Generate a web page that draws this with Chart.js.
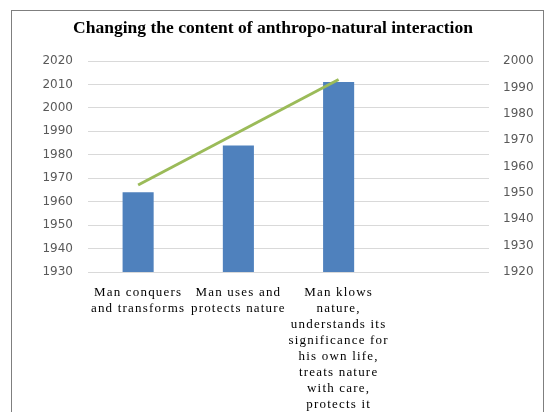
<!DOCTYPE html>
<html>
<head>
<meta charset="utf-8">
<script src="https://cdn.jsdelivr.net/npm/chart.js@4"></script>
<style>
  html, body { margin: 0; padding: 0; background: #fff; }
  #wrap { position: relative; width: 546px; height: 412px; overflow: hidden; }
  #frame { position: absolute; left: 11px; top: 10px; width: 533px; height: 420px; border: 1px solid #7f7f7f; box-sizing: border-box; pointer-events: none; }
  canvas { position: absolute; left: 0; top: 0; }
</style>
</head>
<body>
<div id="wrap">
  <canvas id="c" width="546" height="412"></canvas>
  <div id="frame"></div>
</div>
<script>
const titleText = "Changing the content of anthropo-natural interaction";
const categories = [
  ["Man conquers", "and transforms"],
  ["Man uses and", "protects nature"],
  ["Man klows", "nature,", "understands its", "significance for", "his own life,", "treats nature", "with care,", "protects it"],
  ""
];
const barValues = [1964, 1984, 2011, null];
const lineValues = [1953, 1973, 1993, null];
const leftMin = 1930, leftMax = 2020;
const rightMin = 1920, rightMax = 2000;
const tickStep = 10;

const spacingPlugin = {
  id: 'xspacing',
  afterLayout(chart) {
    const s = chart.scales.x;
    if (!s._wrapped) {
      const orig = s.drawLabels.bind(s);
      s.drawLabels = function (a) {
        const c = this.ctx;
        c.save();
        c.letterSpacing = '1.2px';
        orig(a);
        c.restore();
      };
      s._wrapped = true;
    }
  }
};

const plainTick = v => String(v);

new Chart(document.getElementById('c'), {
  type: 'bar',
  data: {
    labels: categories,
    datasets: [
      {
        type: 'line',
        data: lineValues,
        yAxisID: 'y1',
        borderColor: '#9BBB59',
        borderWidth: 3,
        borderCapStyle: 'butt',
        pointRadius: 0,
        fill: false,
        tension: 0,
        order: 0
      },
      {
        type: 'bar',
        data: barValues,
        yAxisID: 'y',
        backgroundColor: '#4F81BD',
        borderWidth: 0,
        categoryPercentage: 1,
        barPercentage: 0.31,
        order: 1
      }
    ]
  },
  options: {
    responsive: false,
    animation: false,
    devicePixelRatio: 1,
    layout: { padding: 0 },
    plugins: {
      legend: { display: false },
      tooltip: { enabled: false },
      title: {
        display: true,
        text: titleText,
        color: '#000',
        font: { family: 'Liberation Serif', size: 17.5, weight: 'bold', lineHeight: 1.2 },
        padding: { top: 18, bottom: 22 }
      }
    },
    scales: {
      x: {
        grid: { display: false, drawTicks: false },
        border: { display: false },
        ticks: {
          color: '#000',
          font: { family: 'Liberation Serif', size: 13, lineHeight: '16px' },
          maxRotation: 0, minRotation: 0, autoSkip: false,
          padding: 13
        },
        afterFit(s) { s.height = 140; }
      },
      y: {
        position: 'left',
        min: leftMin, max: leftMax,
        grid: { color: '#d9d9d9', lineWidth: 1, drawTicks: false },
        border: { display: false },
        ticks: {
          stepSize: tickStep,
          color: '#595959',
          font: { family: 'DejaVu Sans', size: 12 },
          padding: 15,
          callback: plainTick
        },
        afterFit(s) { s.width = 88; }
      },
      y1: {
        position: 'right',
        min: rightMin, max: rightMax,
        grid: { display: false, drawTicks: false },
        border: { display: false },
        ticks: {
          stepSize: tickStep,
          color: '#595959',
          font: { family: 'DejaVu Sans', size: 12 },
          padding: 14,
          callback: plainTick
        },
        afterFit(s) { s.width = 57; }
      }
    }
  },
  plugins: [spacingPlugin]
});
</script>
</body>
</html>
